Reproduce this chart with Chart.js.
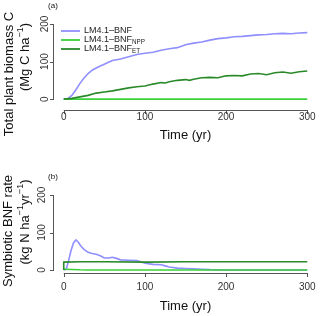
<!DOCTYPE html>
<html>
<head>
<meta charset="utf-8">
<script src="https://cdn.jsdelivr.net/npm/chart.js@4.4.1/dist/chart.umd.min.js"></script>
<style>
body { margin: 0; background: #fff; }
canvas { display: block; }
</style>
</head>
<body>
<canvas id="panelA" width="320" height="158"></canvas>
<canvas id="panelB" width="320" height="158"></canvas>
<script>
const panelA = document.getElementById('panelA')
const panelB = document.getElementById('panelB')

// legend / series
const seriesBase = ['LM4.1\u2013BNF', 'LM4.1\u2013BNF', 'LM4.1\u2013BNF']
const seriesSub = ['', 'NPP', 'ET']
const seriesColors = ['#8f8fff', '#3ad13a', '#2a8a2a']
const xTicks = [0, 100, 200, 300]
const yTicks = [0, 100, 200]

// (a) total plant biomass C, Mg C/ha
const bioYrBNF = [0, 5, 10, 15, 20, 25, 30, 35, 40, 45, 50, 55, 60, 70, 80, 90, 100, 110, 120, 130, 140, 150, 160, 170, 180, 190, 200, 210, 220, 230, 240, 250, 260, 270, 280, 290, 300]
const bioBNF = [0, 1, 10, 25, 42, 56, 68, 77, 83, 88, 93, 98, 103, 107, 113, 119, 122, 125, 130, 134, 137, 145, 149, 152, 157, 161, 163, 166, 167, 169, 171, 172, 174, 175, 174, 176, 177]
const bioYrNPP = [0, 300]
const bioNPP = [0, 0]
const bioYrET = [0, 10, 20, 30, 40, 50, 60, 70, 80, 90, 100, 110, 120, 125, 130, 140, 150, 155, 160, 170, 180, 190, 200, 210, 220, 230, 240, 250, 260, 270, 280, 290, 300]
const bioET = [0, 2, 6, 10, 16, 19, 22, 26, 30, 33, 35, 40, 44, 43, 46, 50, 52, 50, 53, 57, 58, 57, 62, 63, 62, 67, 68, 65, 70, 72, 69, 73, 75]

// (b) symbiotic BNF rate, kg N/ha/yr
const fixYrBNF = [0, 3, 6, 9, 12, 15, 18, 21, 25, 30, 35, 40, 45, 50, 55, 60, 65, 70, 80, 90, 95, 100, 110, 120, 125, 130, 140, 150, 160, 170, 180, 200, 250, 300]
const fixBNF = [0, 2, 25, 52, 72, 80, 74, 64, 55, 47, 44, 42, 38, 32, 32, 34, 31, 27, 26, 25, 22, 18, 15, 14, 11, 8, 5, 4, 3, 2, 1, 0, 0, 0]
const fixYrNPP = [0, 10, 20, 30, 300]
const fixNPP = [2, 1.5, 0.5, 0, 0]
const fixYrET = [0, 0, 20, 50, 100, 150, 200, 250, 300]
const fixET = [0, 21, 22, 22, 21, 22, 22, 22, 22]

const pts = (xs, ys) => xs.map((x, i) => ({x: x, y: ys[i]}))
const FONT = '"Liberation Sans", Arial, Helvetica, sans-serif'
const AXIS = '#555'

// text with sub/superscript parts: [text, 0|1(sup)|-1(sub)]
function drawRich(ctx, parts, x, y, size, center) {
  let total = 0
  parts.forEach((p) => {
    ctx.font = (p[1] ? size * 0.7 : size) + 'px ' + FONT
    total += ctx.measureText(p[0]).width
  })
  let cx = center ? x - total / 2 : x
  ctx.textAlign = 'left'
  ctx.textBaseline = 'middle'
  parts.forEach((p) => {
    const s = p[1] ? size * 0.7 : size
    ctx.font = s + 'px ' + FONT
    const dy = p[1] === 1 ? -size * 0.35 : p[1] === -1 ? size * 0.3 : 0
    ctx.fillText(p[0], cx, y + dy)
    cx += ctx.measureText(p[0]).width
  })
}

const rAxes = {
  id: 'rAxes',
  afterDraw(chart, args, o) {
    const ctx = chart.ctx
    const xs = chart.scales.x
    const ys = chart.scales.y
    const a = chart.chartArea
    ctx.save()
    ctx.strokeStyle = AXIS
    ctx.fillStyle = '#222'
    ctx.lineWidth = 1
    ctx.beginPath()
    ctx.moveTo(xs.getPixelForValue(0), a.bottom + 0.5)
    ctx.lineTo(xs.getPixelForValue(300), a.bottom + 0.5)
    xTicks.forEach((t) => {
      const px = Math.round(xs.getPixelForValue(t)) + 0.5
      ctx.moveTo(px, a.bottom)
      ctx.lineTo(px, a.bottom + 4)
    })
    ctx.moveTo(a.left - 0.5, ys.getPixelForValue(0))
    ctx.lineTo(a.left - 0.5, ys.getPixelForValue(200))
    yTicks.forEach((t) => {
      const py = Math.round(ys.getPixelForValue(t)) + 0.5
      ctx.moveTo(a.left, py)
      ctx.lineTo(a.left - 4, py)
    })
    ctx.stroke()

    ctx.fillStyle = '#333'
    xTicks.forEach((t) => drawRich(ctx, [[String(t), 0]], xs.getPixelForValue(t), a.bottom + o.xLabelDy, 10, true))
    yTicks.forEach((t) => {
      ctx.save()
      ctx.translate(o.yLabelX, ys.getPixelForValue(t))
      ctx.rotate(-Math.PI / 2)
      drawRich(ctx, [[String(t), 0]], 0, 0, 10, true)
      ctx.restore()
    })

    ctx.fillStyle = '#111'
    drawRich(ctx, [['Time (yr)', 0]], xs.getPixelForValue(150), a.bottom + o.xTitleDy, 13, true)
    o.yTitle.forEach((line) => {
      ctx.save()
      ctx.translate(line.x, line.y)
      ctx.rotate(-Math.PI / 2)
      drawRich(ctx, line.parts, 0, 0, 13, true)
      ctx.restore()
    })
    drawRich(ctx, [[o.tag, 0]], 53, o.tagY, 8, true)

    if (o.legend) {
      seriesBase.forEach((name, i) => {
        const ly = 31 + i * 9
        ctx.strokeStyle = seriesColors[i]
        ctx.lineWidth = 1.8
        ctx.beginPath()
        ctx.moveTo(61, ly)
        ctx.lineTo(80, ly)
        ctx.stroke()
        ctx.fillStyle = '#222'
        drawRich(ctx, [[name, 0], [seriesSub[i], -1]], 84, ly, 9, false)
      })
    }
    ctx.restore()
  }
}

Chart.register(rAxes)
Chart.defaults.font.family = FONT
Chart.defaults.animation = false
Chart.defaults.responsive = false
Chart.defaults.plugins.legend.display = false
Chart.defaults.plugins.tooltip.enabled = false
Chart.defaults.elements.point.radius = 0
Chart.defaults.elements.line.borderWidth = 1.6

function lineSets(parts) {
  return parts.map((d, i) => ({
    data: d,
    borderColor: seriesColors[i],
    backgroundColor: seriesColors[i],
    fill: false,
    order: [3, 2, 1][i],
  }))
}

new Chart(panelA, {
  type: 'line',
  data: {datasets: lineSets([pts(bioYrBNF, bioBNF), pts(bioYrNPP, bioNPP), pts(bioYrET, bioET)])},
  options: {
    layout: {padding: {left: 54, right: 3, top: 21, bottom: 48}},
    scales: {
      x: {type: 'linear', min: -12, max: 312, display: false},
      y: {type: 'linear', min: -29, max: 208, display: false},
    },
    plugins: {
      rAxes: {
        xLabelDy: 7, xTitleDy: 25, yLabelX: 45, tag: '(a)', tagY: 6, legend: true,
        yTitle: [
          {x: 9, y: 74, parts: [['Total plant biomass C', 0]]},
          {x: 25, y: 57, parts: [['(Mg C ha', 0], ['\u22121', 1], [')', 0]]},
        ],
      },
    },
  },
})

new Chart(panelB, {
  type: 'line',
  data: {datasets: lineSets([pts(fixYrBNF, fixBNF), pts(fixYrNPP, fixNPP), pts(fixYrET, fixET)])},
  options: {
    layout: {padding: {left: 54, right: 3, top: 34, bottom: 43}},
    scales: {
      x: {type: 'linear', min: -12, max: 312, display: false},
      y: {type: 'linear', min: -8, max: 208, display: false},
    },
    plugins: {
      rAxes: {
        xLabelDy: 14, xTitleDy: 33, yLabelX: 42, tag: '(b)', tagY: 19, legend: false,
        yTitle: [
          {x: 8, y: 73, parts: [['Symbiotic BNF rate', 0]]},
          {x: 25, y: 64, parts: [['(kg N ha', 0], ['\u22121', 1], ['yr', 0], ['\u22121', 1], [')', 0]]},
        ],
      },
    },
  },
})
</script>
</body>
</html>
